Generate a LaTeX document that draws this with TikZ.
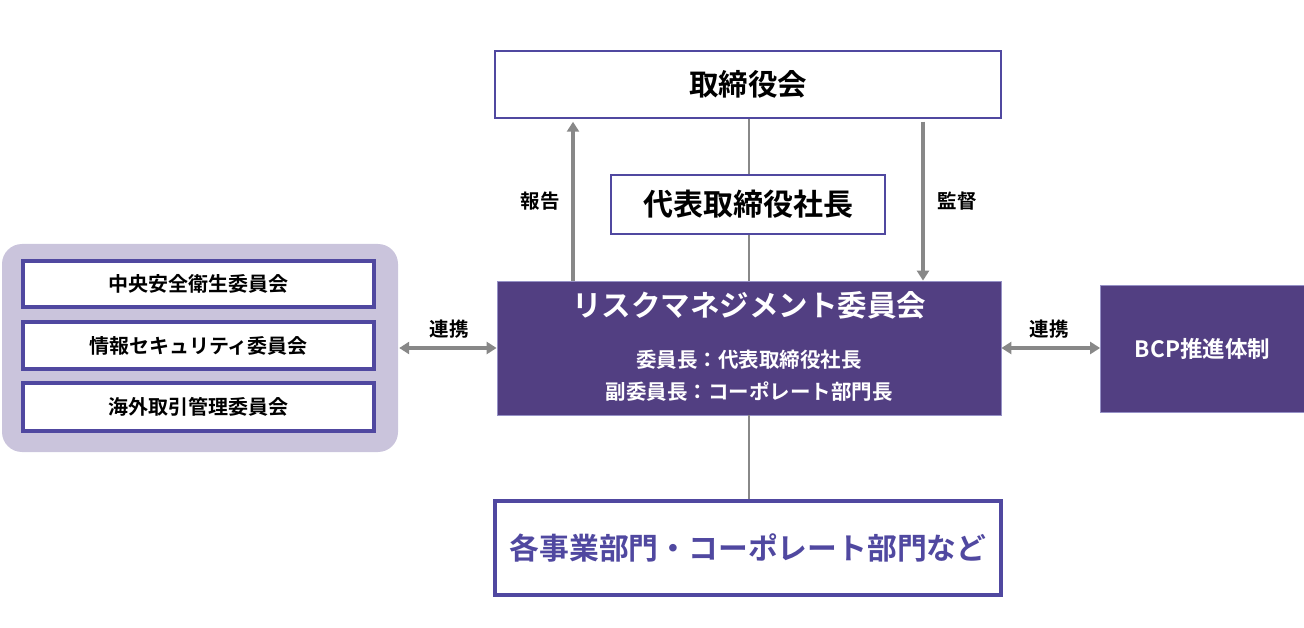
\documentclass[tikz,border=0pt]{standalone}
\usepackage{fontspec}
\setmainfont{Noto Sans CJK JP}[BoldFont={Noto Sans CJK JP Bold}]
\usetikzlibrary{arrows.meta}
\definecolor{rmpurple}{HTML}{523F82}
\definecolor{edgepurple}{HTML}{5048A0}
\definecolor{groupbg}{HTML}{CAC4DC}
\definecolor{arrgray}{HTML}{888888}
\tikzset{
  thinbox/.style={draw=edgepurple,line width=1.5pt,fill=white,inner sep=0pt,font=\bfseries},
  thickbox/.style={draw=edgepurple,line width=4pt,fill=white,inner sep=0pt,font=\bfseries},
  darkbox/.style={fill=rmpurple,draw=edgepurple!60,line width=0.8pt,inner sep=0pt,text=white,font=\bfseries},
  arr/.style={draw=arrgray,line width=4pt,-{Triangle[width=12pt,length=10pt]}},
  darr/.style={draw=arrgray,line width=4pt,{Triangle[width=12pt,length=10pt]}-{Triangle[width=12pt,length=10pt]}},
  conn/.style={draw=arrgray,line width=2pt},
  lbl/.style={font=\fontsize{19.5}{22}\selectfont\bfseries,inner sep=0pt},
  subfont/.style={font=\fontsize{20}{22}\selectfont\bfseries},
}
\begin{document}
\begin{tikzpicture}[x=1pt,y=-1pt]
\useasboundingbox (0,0) rectangle (1304,628);
% group background
\node[fill=groupbg,rounded corners=20pt,minimum width=396pt,minimum height=208pt,inner sep=0pt] (grp) at (200,348) {};
\node[thickbox,minimum width=351pt,minimum height=46pt,subfont] (c1) at (198.5,284) {中央安全衛生委員会};
\node[thickbox,minimum width=351pt,minimum height=47pt,subfont] (c2) at (198.5,345.5) {情報セキュリティ委員会};
\node[thickbox,minimum width=351pt,minimum height=48pt,subfont] (c3) at (198.5,407) {海外取引管理委員会};
% main boxes
\node[thinbox,minimum width=506pt,minimum height=67pt,font=\fontsize{29.5}{32}\selectfont\bfseries] (board) at (748,84.5) {取締役会};
\node[darkbox,minimum width=504pt,minimum height=134pt] (rm) at (749,348) {};
\node[text=white,font=\fontsize{29.5}{32}\selectfont\bfseries,inner sep=0pt] (rmt) at (749,305) {リスクマネジメント委員会};
\node[text=white,font=\fontsize{20.5}{32}\selectfont\bfseries,inner sep=0pt,align=center] (rms) at (749,376) {委員長：代表取締役社長\\副委員長：コーポレート部門長};
\node[darkbox,minimum width=204pt,minimum height=127pt,font=\fontsize{22.5}{24}\selectfont\bfseries] (bcp) at (1202.5,348.5) {BCP推進体制};
\node[thickbox,minimum width=506pt,minimum height=94pt,text=edgepurple,font=\fontsize{29.8}{34}\selectfont\bfseries] (div) at (748,548) {各事業部門・コーポレート部門など};
% connectors
\coordinate (mx) at (749,0);
\draw[conn] (board.south -| mx) -- (rm.north -| mx);
\draw[conn] (rm.south -| mx) -- (div.north -| mx);
\node[thinbox,minimum width=274pt,minimum height=59pt,font=\fontsize{30}{34}\selectfont\bfseries] (pres) at (748,204.5) {代表取締役社長};
\coordinate (rx) at (573,0);
\coordinate (sx) at (923,0);
\draw[arr] (rm.north -| rx) -- ([yshift=-3pt]board.south -| rx);
\draw[arr] ([yshift=-3pt]board.south -| sx) -- (rm.north -| sx);
\node[lbl] (hk) at (540,201) {報告};
\node[lbl] (kt) at (957,201) {監督};
\coordinate (ly) at (0,348);
\draw[darr] ([xshift=1pt]grp.east |- ly) -- (rm.west |- ly);
\draw[darr] (rm.east |- ly) -- (bcp.west |- ly);
\node[lbl] (rl) at (449,329) {連携};
\node[lbl] (rr) at (1049,329) {連携};
\end{tikzpicture}
\end{document}
